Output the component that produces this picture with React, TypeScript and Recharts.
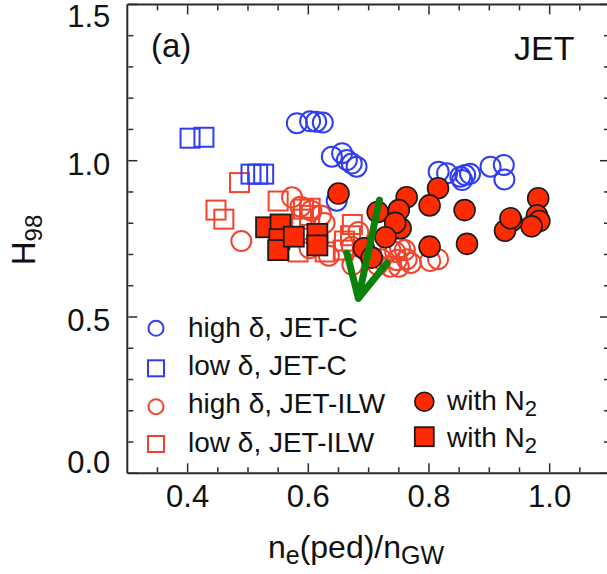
import React from 'react';
import { ScatterChart, Scatter, XAxis, YAxis, Legend, Customized } from 'recharts';

const FONT = '"Liberation Sans", Arial, Helvetica, sans-serif';
const AXIS = '#2a2a2a';
const BLUE = '#2f3ef2';
const RED_OPEN = '#f4432c';
const RED_FILL = '#ff2a00';
const GREEN = '#0a820a';

// ---- data: [n_e(ped)/n_GW, H98] ----
const highDeltaJetC: number[][] = [
  [0.581, 1.12], [0.603, 1.126], [0.613, 1.125], [0.624, 1.122],
  [0.639, 1.013], [0.656, 1.024], [0.664, 1.002], [0.672, 0.991], [0.68, 0.981],
  [0.647, 0.872],
  [0.816, 0.965], [0.83, 0.96], [0.852, 0.949], [0.86, 0.954], [0.855, 0.938], [0.868, 0.958],
  [0.902, 0.981], [0.924, 0.986], [0.925, 0.94],
];
const lowDeltaJetC: number[][] = [
  [0.404, 1.072], [0.427, 1.075], [0.505, 0.957], [0.516, 0.957], [0.526, 0.957],
];
const highDeltaJetILW: number[][] = [
  [0.489, 0.743], [0.573, 0.883], [0.587, 0.853], [0.605, 0.84], [0.621, 0.825], [0.627, 0.801],
  [0.602, 0.72], [0.634, 0.696], [0.683, 0.772], [0.672, 0.725], [0.673, 0.667],
  [0.715, 0.667], [0.721, 0.685], [0.736, 0.714], [0.744, 0.708], [0.752, 0.72], [0.76, 0.714],
  [0.763, 0.685], [0.747, 0.682], [0.75, 0.661], [0.736, 0.661], [0.77, 0.673],
  [0.802, 0.679], [0.815, 0.685],
];
const lowDeltaJetILW: number[][] = [
  [0.486, 0.93], [0.447, 0.842], [0.46, 0.813], [0.55, 0.871], [0.592, 0.845], [0.602, 0.825],
  [0.589, 0.813], [0.583, 0.708], [0.628, 0.708], [0.66, 0.743], [0.673, 0.796], [0.67, 0.76],
  [0.658, 0.714], [0.603, 0.848],
];
const filledCirclesN2: number[][] = [
  [0.65, 0.895], [0.715, 0.836], [0.763, 0.883], [0.75, 0.842], [0.753, 0.784], [0.744, 0.801],
  [0.728, 0.755], [0.692, 0.72], [0.705, 0.69],
  [0.815, 0.912], [0.801, 0.857], [0.859, 0.842], [0.801, 0.725], [0.863, 0.734],
  [0.981, 0.88], [0.979, 0.825], [0.983, 0.807], [0.97, 0.79], [0.937, 0.807], [0.926, 0.776], [0.935, 0.816],
];
const filledSquaresN2: number[][] = [
  [0.53, 0.787], [0.554, 0.796], [0.552, 0.749], [0.55, 0.714], [0.576, 0.757], [0.615, 0.766], [0.615, 0.729],
];
const arrowShaft: number[][] = [[0.718, 0.874], [0.683, 0.56]];
const arrowHead: number[][] = [[0.664, 0.704], [0.683, 0.56], [0.73, 0.672]];

const xTicks = [0.35, 0.4, 0.45, 0.5, 0.55, 0.6, 0.65, 0.7, 0.75, 0.8, 0.85, 0.9, 0.95, 1.0, 1.05];
const xMajor = [0.4, 0.6, 0.8, 1.0];
const yTicks = [0, 0.1, 0.2, 0.3, 0.4, 0.5, 0.6, 0.7, 0.8, 0.9, 1.0, 1.1, 1.2, 1.3, 1.4, 1.5];
const yMajor = [0, 0.5, 1.0, 1.5];

const legendLeft = [
  { label: 'high δ, JET-C', kind: 'circle', color: BLUE },
  { label: 'low δ, JET-C', kind: 'square', color: BLUE },
  { label: 'high δ, JET-ILW', kind: 'circle', color: RED_OPEN },
  { label: 'low δ, JET-ILW', kind: 'square', color: RED_OPEN },
];
const legendRight = [
  { label: 'with N', sub: '2', kind: 'circle' },
  { label: 'with N', sub: '2', kind: 'square' },
];

const toPts = (a: number[][]) => a.map(([x, y]) => ({ x, y }));
const isIn = (v: number, arr: number[]) => arr.some((m) => Math.abs(m - v) < 1e-6);

const openCircle = (color: string) => (p: any) => (
  <circle cx={p.cx} cy={p.cy} r={10} fill="none" stroke={color} strokeWidth={2} />
);
const openSquare = (color: string) => (p: any) => (
  <rect x={p.cx - 9.5} y={p.cy - 9.5} width={19} height={19} fill="none" stroke={color} strokeWidth={2} />
);
const filledCircle = (p: any) => (
  <circle cx={p.cx} cy={p.cy} r={10.5} fill={RED_FILL} stroke="#1a1a1a" strokeWidth={1.6} />
);
const filledSquare = (p: any) => (
  <rect x={p.cx - 10} y={p.cy - 10} width={20} height={20} fill={RED_FILL} stroke="#1a1a1a" strokeWidth={1.8} />
);
const noShape = () => <g />;

const BottomTick = (p: any) => {
  const v = p.payload.value;
  const major = isIn(v, xMajor);
  const y0 = p.y - 1;
  return (
    <g>
      <line x1={p.x} x2={p.x} y1={y0} y2={y0 - (major ? 9 : 5)} stroke={AXIS} strokeWidth={1.5} />
      {major && (
        <text x={p.x} y={y0 + 35} textAnchor="middle" fontSize={31} fontFamily={FONT} fill="#111">
          {v.toFixed(1)}
        </text>
      )}
    </g>
  );
};
const TopTick = (p: any) => {
  const major = isIn(p.payload.value, xMajor);
  const y0 = p.y + 1;
  return <line x1={p.x} x2={p.x} y1={y0} y2={y0 + (major ? 9 : 5)} stroke={AXIS} strokeWidth={1.5} />;
};
const LeftTick = (p: any) => {
  const v = p.payload.value;
  const major = isIn(v, yMajor);
  const x0 = p.x + 1;
  const dy = v > 1.45 ? 22.6 : v < 0.05 ? 0 : 14;
  return (
    <g>
      <line x1={x0} x2={x0 + (major ? 9 : 5)} y1={p.y} y2={p.y} stroke={AXIS} strokeWidth={1.5} />
      {major && (
        <text x={x0 - 18} y={p.y + dy} textAnchor="end" fontSize={31} fontFamily={FONT} fill="#111">
          {v.toFixed(1)}
        </text>
      )}
    </g>
  );
};
const RightTick = (p: any) => {
  const major = isIn(p.payload.value, yMajor);
  const x0 = p.x - 1;
  return <line x1={x0} x2={x0 - (major ? 9 : 5)} y1={p.y} y2={p.y} stroke={AXIS} strokeWidth={1.5} />;
};

const LegendContent = () => (
  <svg width={620} height={574} style={{ position: 'absolute', left: 0, top: 0, pointerEvents: 'none' }}>
    {legendLeft.map((e, i) => {
      const cy = [328.3, 368.3, 406.7, 444][i];
      const base = [336.7, 375, 413.3, 451.7][i];
      return (
        <g key={i}>
          {e.kind === 'circle' ? (
            <circle cx={156} cy={cy} r={7.5} fill="none" stroke={e.color} strokeWidth={2} />
          ) : (
            <rect x={148} y={cy - 8} width={16} height={16} fill="none" stroke={e.color} strokeWidth={2} />
          )}
          <text x={188} y={base} fontSize={28} fontFamily={FONT} fill="#111">{e.label}</text>
        </g>
      );
    })}
    {legendRight.map((e, i) => {
      const cy = [401.7, 436.7][i];
      const base = [410, 446.7][i];
      return (
        <g key={'r' + i}>
          {e.kind === 'circle' ? (
            <circle cx={424.3} cy={cy} r={9.5} fill={RED_FILL} stroke="#1a1a1a" strokeWidth={1.6} />
          ) : (
            <rect x={414.8} y={cy - 9.5} width={19} height={19} fill={RED_FILL} stroke="#1a1a1a" strokeWidth={1.8} />
          )}
          <text x={447} y={base} fontSize={28} fontFamily={FONT} fill="#111">
            {e.label}
            <tspan fontSize={22} dy={6}>{e.sub}</tspan>
          </text>
        </g>
      );
    })}
  </svg>
);

const Annotations = () => (
  <g fontFamily={FONT} fill="#111">
    <text x={151} y={56.5} fontSize={33}>(a)</text>
    <text x={514} y={60} fontSize={34}>JET</text>
    <text x={356} y={558} fontSize={32} textAnchor="middle">
      n<tspan fontSize={25} dy={6}>e</tspan>
      <tspan dy={-6}>(ped)/n</tspan>
      <tspan fontSize={25} dy={6}>GW</tspan>
    </text>
    <text x={35} y={240} fontSize={33} textAnchor="middle" transform="rotate(-90, 35, 240)">
      H<tspan fontSize={24} dy={7}>98</tspan>
    </text>
  </g>
);

export default function App() {
  return (
    <div style={{ position: 'absolute', left: 0, top: 0, width: 607, height: 574, overflow: 'hidden', background: '#fff' }}>
      <ScatterChart width={620} height={574} margin={{ top: 3.4, right: 9, bottom: 99.7, left: 126.3 }}>
        <XAxis
          type="number" dataKey="x" domain={[0.3, 1.1]} ticks={xTicks} interval={0}
          height={1} tickSize={0} tickMargin={0} tickLine={false} tick={<BottomTick />}
          axisLine={{ stroke: AXIS, strokeWidth: 2 }} allowDataOverflow
        />
        <XAxis
          xAxisId="top" orientation="top" type="number" dataKey="x" domain={[0.3, 1.1]} ticks={xTicks} interval={0}
          height={1} tickSize={0} tickMargin={0} tickLine={false} tick={<TopTick />}
          axisLine={{ stroke: AXIS, strokeWidth: 2 }} allowDataOverflow
        />
        <YAxis
          type="number" dataKey="y" domain={[0, 1.5]} ticks={yTicks} interval={0}
          width={1} tickSize={0} tickMargin={0} tickLine={false} tick={<LeftTick />}
          axisLine={{ stroke: AXIS, strokeWidth: 2 }} allowDataOverflow
        />
        <YAxis
          yAxisId="right" orientation="right" type="number" dataKey="y" domain={[0, 1.5]} ticks={yTicks} interval={0}
          width={1} tickSize={0} tickMargin={0} tickLine={false} tick={<RightTick />}
          axisLine={{ stroke: AXIS, strokeWidth: 2 }} allowDataOverflow
        />
        <Legend layout="horizontal" verticalAlign="middle" align="center"
          wrapperStyle={{ left: 0, top: 0, width: 620, height: 574 }} content={<LegendContent />} />
        <Scatter name="low δ, JET-ILW" data={toPts(lowDeltaJetILW)} shape={openSquare(RED_OPEN)} isAnimationActive={false} />
        <Scatter name="high δ, JET-ILW" data={toPts(highDeltaJetILW)} shape={openCircle(RED_OPEN)} isAnimationActive={false} />
        <Scatter name="low δ, JET-C" data={toPts(lowDeltaJetC)} shape={openSquare(BLUE)} isAnimationActive={false} />
        <Scatter name="high δ, JET-C" data={toPts(highDeltaJetC)} shape={openCircle(BLUE)} isAnimationActive={false} />
        <Scatter name="with N2 (low δ)" data={toPts(filledSquaresN2)} shape={filledSquare} isAnimationActive={false} />
        <Scatter name="with N2 (high δ)" data={toPts(filledCirclesN2)} shape={filledCircle} isAnimationActive={false} />
        <Scatter name="arrow" data={toPts(arrowShaft)} shape={noShape} isAnimationActive={false}
          line={{ stroke: GREEN, strokeWidth: 7, strokeLinecap: 'round' }} />
        <Scatter name="arrowhead" data={toPts(arrowHead)} shape={noShape} isAnimationActive={false}
          line={{ stroke: GREEN, strokeWidth: 7, strokeLinecap: 'round', strokeLinejoin: 'round' }} />
        <Customized component={Annotations} />
      </ScatterChart>
    </div>
  );
}
